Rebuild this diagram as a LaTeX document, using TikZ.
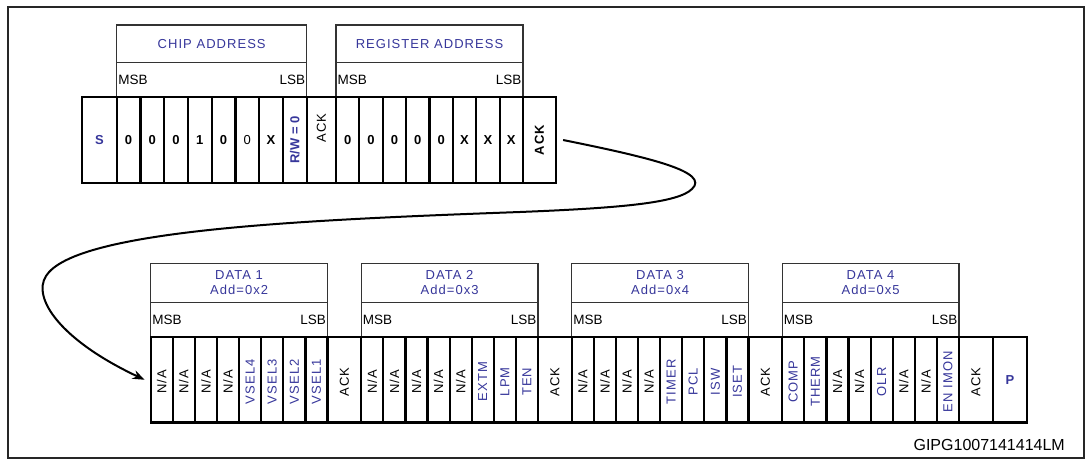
\documentclass[tikz,border=0pt]{standalone}
\usepackage{fontspec}
\setmainfont{Liberation Sans}
\newfontfamily\spfont{Liberation Sans}[LetterSpace=8]
\usetikzlibrary{arrows.meta}
\definecolor{tiblue}{RGB}{55,55,155}
\newcommand\myNA{N/A}
\newcommand\myfs{\fontsize{13}{15}\selectfont}
\tikzset{
  frame/.style={draw=black!85, line width=1.5pt},
  hbox/.style={draw=black!80, line width=1.2pt, inner sep=0pt},
  htitle/.style={hbox, text=tiblue, font=\myfs\spfont, align=center},
  edgetxt/.style={inner sep=2pt, font=\fontsize{13.5}{15}\selectfont},
  bitcell/.style={draw=black, line width=2.2pt, inner sep=0pt, font=\myfs},
  bitbold/.style={bitcell, font=\myfs\bfseries},
  vcell/.style={bitcell, font=\myfs\spfont},
  conn/.style={line width=2pt, -{Stealth[length=12pt,width=9pt]}},
}
\newcommand\datasec[4]{%
  \node[htitle, minimum width=176.8pt, minimum height=39.4pt] (h#1) at ({#2+88.4},283) {DATA #1\\Add=0x#3};
  \node[hbox, minimum width=176.8pt, minimum height=34.3pt] (m#1) at ({#2+88.4},319.85) {};
  \node[edgetxt, anchor=west] (m#1msb) at (m#1.west) {MSB};
  \node[edgetxt, anchor=east] (m#1lsb) at (m#1.east) {LSB};
  \foreach \lbl/\col [count=\i] in {#4} {\node[vcell, text=\col, minimum width=22.1pt, minimum height=85.5pt] (d#1-\i) at ({#2+22.1*(\i-0.5)},379.75) {\rotatebox{90}{\lbl\hspace*{4pt}}};}
  \node[vcell, minimum width=33.7pt, minimum height=85.5pt] (a#1) at ({#2+193.65},379.75) {\rotatebox{90}{ACK\hspace*{4pt}}};
}
\begin{document}
\begin{tikzpicture}[x=1pt,y=-1pt]
\fill[white] (0,0) rectangle (1086,460);
\useasboundingbox (0,0) rectangle (1086,460);
\draw[frame] (8,7) rectangle (1084,458);

% ---- row 1 headers
\node[htitle, minimum width=190pt, minimum height=37.7pt] (ch) at (211.7,43.85) {CHIP ADDRESS};
\node[hbox, minimum width=190pt, minimum height=34.3pt] (cm) at (211.7,79.85) {};
\node[edgetxt, anchor=west] (cmsb) at (cm.west) {MSB};
\node[edgetxt, anchor=east] (clsb) at (cm.east) {LSB};
\node[htitle, minimum width=187pt, minimum height=37.7pt] (rh) at (429.5,43.85) {REGISTER ADDRESS};
\node[hbox, minimum width=187pt, minimum height=34.3pt] (rm) at (429.5,79.85) {};
\node[edgetxt, anchor=west] (rmsb) at (rm.west) {MSB};
\node[edgetxt, anchor=east] (rlsb) at (rm.east) {LSB};

% ---- row 1 cells
\node[bitbold, text=tiblue, minimum width=34.7pt, minimum height=86pt] (s) at (99.35,140) {S};
\foreach \lbl [count=\i] in {0,0,0,1,0} {\node[bitbold, minimum width=23.75pt, minimum height=86pt] (c\i) at ({116.7+23.75*(\i-0.5)},140) {\lbl};}
\node[bitcell, minimum width=23.75pt, minimum height=86pt] (c6) at ({116.7+23.75*5.5},140) {0};
\node[bitbold, minimum width=23.75pt, minimum height=86pt] (c7) at ({116.7+23.75*6.5},140) {X};
\node[bitbold, text=tiblue, minimum width=23.75pt, minimum height=86pt] (c8) at ({116.7+23.75*7.5},140) {\rotatebox{90}{R/W = 0}};
\node[vcell, minimum width=29.3pt, minimum height=86pt] (ra1) at (321.35,140) {\rotatebox{90}{\hspace*{24pt}ACK}};
\foreach \lbl [count=\i] in {0,0,0,0,0,X,X,X} {\node[bitbold, minimum width=23.375pt, minimum height=86pt] (r\i) at ({336+23.375*(\i-0.5)},140) {\lbl};}
\node[bitbold, font=\myfs\spfont\bfseries, minimum width=33pt, minimum height=86pt] (ra2) at (539.5,140) {\rotatebox{90}{ACK}};

% ---- row 2
\datasec{1}{150.7}{2}{\myNA/black,\myNA/black,\myNA/black,\myNA/black,VSEL4/tiblue,VSEL3/tiblue,VSEL2/tiblue,VSEL1/tiblue}
\datasec{2}{361.2}{3}{\myNA/black,\myNA/black,\myNA/black,\myNA/black,\myNA/black,EXTM/tiblue,LPM/tiblue,TEN/tiblue}
\datasec{3}{571.7}{4}{\myNA/black,\myNA/black,\myNA/black,\myNA/black,TIMER/tiblue,PCL/tiblue,ISW/tiblue,ISET/tiblue}
\datasec{4}{782.2}{5}{COMP/tiblue,THERM/tiblue,\myNA/black,\myNA/black,OLR/tiblue,\myNA/black,\myNA/black,EN IMON/tiblue}
\node[bitbold, text=tiblue, minimum width=34.6pt, minimum height=85.5pt] (p) at (1010,379.75) {P};

% ---- connector
\draw[conn] ([xshift=6pt]ra2.east) .. controls (652,158) and (710,172) .. (692,189)
  .. controls (678,203) and (620,208) .. (520,212)
  .. controls (300,220) and (75,230) .. (46,276)
  .. controls (32,298) and (60,340) .. ([xshift=-5pt]d1-1.west);

\node[inner sep=0pt, anchor=base east, font=\fontsize{16}{18}\selectfont] (code) at (1065,450.7) {GIPG1007141414LM};
\end{tikzpicture}
\end{document}
